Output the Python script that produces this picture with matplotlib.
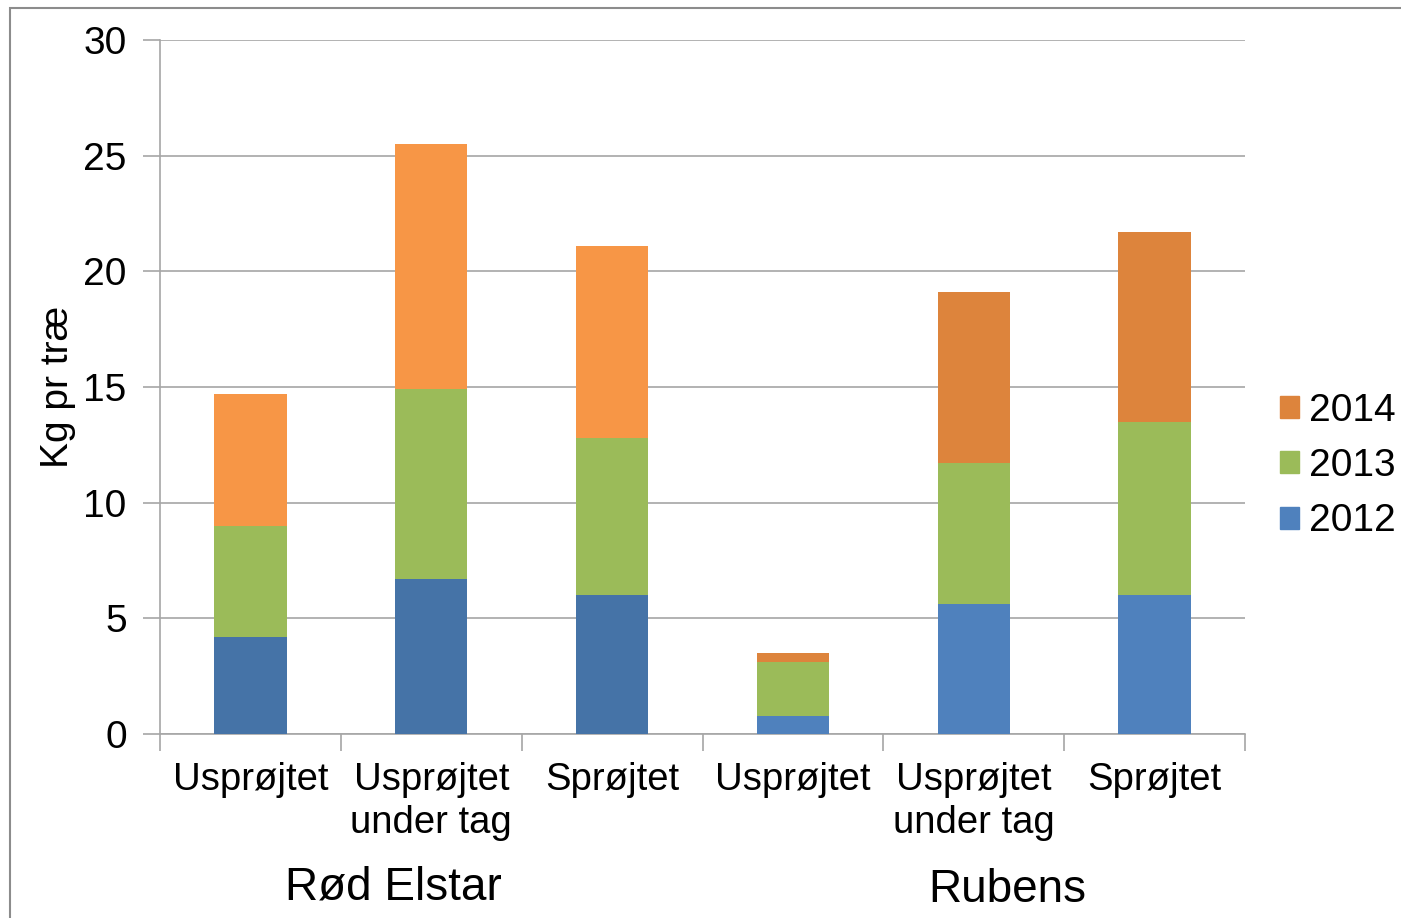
import matplotlib as mpl
mpl.use('Agg')
import matplotlib.pyplot as plt
import numpy as np
from matplotlib.patches import Rectangle, Patch

plt.rcParams['font.family'] = ['Liberation Sans', 'DejaVu Sans']

# data (kg per tree, stacked by year)
categories = ['Usprøjtet', 'Usprøjtet\nunder tag', 'Sprøjtet',
              'Usprøjtet', 'Usprøjtet\nunder tag', 'Sprøjtet']
groups = ['Rød Elstar', 'Rubens']
years = ['2012', '2013', '2014']
y2012 = [4.2, 6.7, 6.0, 0.8, 5.6, 6.0]
y2013 = [4.8, 8.2, 6.8, 2.3, 6.1, 7.5]
y2014 = [5.7, 10.6, 8.3, 0.4, 7.4, 8.2]

# colours: first variety drawn a bit differently from the second
c2012 = ['#4573A7'] * 3 + ['#4F81BD'] * 3
c2013 = ['#9BBB59'] * 6
c2014 = ['#F79646'] * 3 + ['#DD843C'] * 3

fig = plt.figure(figsize=(14.01, 9.18), dpi=100)
ax = fig.add_axes([0.1142, 0.2004, 0.7745, 0.756])

x = np.arange(len(categories))
w = 0.4
b1 = np.array(y2012)
b2 = b1 + np.array(y2013)
ax.bar(x, y2012, w, color=c2012, zorder=3, label=years[0])
ax.bar(x, y2013, w, bottom=b1, color=c2013, zorder=3, label=years[1])
ax.bar(x, y2014, w, bottom=b2, color=c2014, zorder=3, label=years[2])

ax.set_xlim(-0.5, len(categories) - 0.5)
ax.set_ylim(0, 30)
ax.set_yticks(np.arange(0, 31, 5))
ax.yaxis.grid(True, color='#A6A6A6', linewidth=1.2, zorder=0)
ax.tick_params(axis='y', labelsize=28, length=12, width=1.2, color='#A6A6A6', pad=12)

ax.set_xticks(x)
ax.set_xticklabels(categories, fontsize=27.5, linespacing=1.25)
ax.tick_params(axis='x', which='major', length=0, pad=20)
ax.set_xticks(np.arange(-0.5, len(categories)), minor=True)
ax.tick_params(axis='x', which='minor', length=12, width=1.2, color='#A6A6A6')

for s in ['top', 'right']:
    ax.spines[s].set_visible(False)
for s in ['left', 'bottom']:
    ax.spines[s].set_color('#A6A6A6')
    ax.spines[s].set_linewidth(1.2)

ax.set_ylabel('Kg pr træ', fontsize=28, labelpad=5)

# variety labels under the categories
fig.text(393 / 1401, 1 - 888 / 918, groups[0], fontsize=33, ha='center', va='center')
fig.text(1007 / 1401, 1 - 890 / 918, groups[1], fontsize=33, ha='center', va='center')

# legend (uses second variety colours)
handles = [Patch(color='#DD843C'), Patch(color='#9BBB59'), Patch(color='#4F81BD')]
fig.legend(handles, ['2014', '2013', '2012'], loc='center left',
           bbox_to_anchor=(1280 / 1401, 1 - 466 / 918), frameon=False,
           fontsize=28, handlelength=0.5, handleheight=0.5, handletextpad=0.25,
           labelspacing=0.5, borderaxespad=0, borderpad=0)

# outer frame
fig.patches.append(Rectangle((10 / 1401, -0.1), 1.2, 1 - 8 / 918 + 0.1,
                             transform=fig.transFigure, fill=False,
                             edgecolor='#8C8C8C', linewidth=1.5))

plt.savefig('out.png', dpi=100)
plt.close()
